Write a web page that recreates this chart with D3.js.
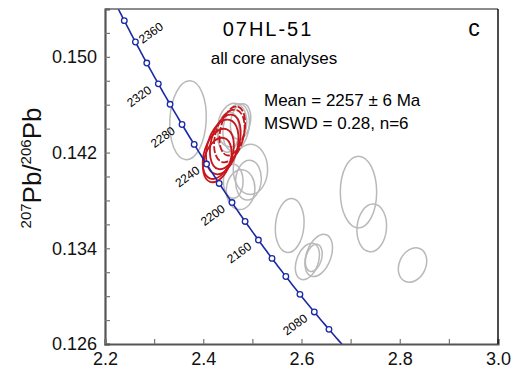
<!DOCTYPE html>
<html>
<head>
<meta charset="utf-8">
<script src="https://cdn.jsdelivr.net/npm/d3@7"></script>
<style>
  body { margin: 0; background: #fff; }
  text { font-family: "Liberation Sans", Arial, sans-serif; }
</style>
</head>
<body>
<div id="chart"></div>
<script>
// axis ticks
const xTicks = [2.2, 2.4, 2.6, 2.8, 3.0];
const xMinorTicks = [2.3, 2.5, 2.7, 2.9];
const yTicks = [0.126, 0.134, 0.142, 0.150];
const yMinorTicks = [0.128, 0.130, 0.132, 0.136, 0.138, 0.140, 0.144, 0.146, 0.148, 0.152];

// concordia age marks (Ma)
const markerAges = [2060, 2080, 2100, 2120, 2140, 2160, 2180, 2200, 2220, 2240, 2260, 2280, 2300, 2320, 2340, 2360, 2380];
const labelAges = [2360, 2320, 2280, 2240, 2200, 2160, 2080];

// analyses: [238U/206Pb, 207Pb/206Pb, half-width x, half-height y, tilt deg]
const grayEllipses = [
  [2.369, 0.1447, 0.037, 0.0033, 3],
  [2.459, 0.1443, 0.029, 0.00184, 10],
  [2.467, 0.1441, 0.026, 0.0020, 10],
  [2.451, 0.1437, 0.022, 0.00167, 5],
  [2.476, 0.1446, 0.020, 0.0015, 10],
  [2.496, 0.1406, 0.035, 0.0021, 0],
  [2.476, 0.1389, 0.029, 0.00167, 5],
  [2.492, 0.1397, 0.026, 0.00167, 5],
  [2.461, 0.1396, 0.020, 0.00142, 0],
  [2.576, 0.1359, 0.029, 0.00226, 5],
  [2.612, 0.1329, 0.022, 0.00159, 20],
  [2.635, 0.1334, 0.025, 0.00184, 20],
  [2.625, 0.1332, 0.016, 0.00117, 15],
  [2.716, 0.1387, 0.037, 0.0030, 0],
  [2.743, 0.1357, 0.030, 0.0020, 5],
  [2.826, 0.1326, 0.027, 0.0015, 25]
];
// the six analyses used for the mean age
const redEllipses = [
  [2.4286, 0.14138, 0.0265, 0.00192, 18],
  [2.4306, 0.14189, 0.0286, 0.00217, 18],
  [2.4388, 0.14247, 0.0306, 0.00234, 15],
  [2.4449, 0.14289, 0.0286, 0.00234, 15],
  [2.4531, 0.14339, 0.0286, 0.00226, 15],
  [2.4592, 0.14381, 0.0245, 0.00209, 12]
];
const redDashed = [false, false, false, false, true, true];

const W = 518, H = 372;
const margin = {top: 9, right: 20, bottom: 28, left: 105};
const width = W - margin.left - margin.right;
const height = H - margin.top - margin.bottom;

const svg = d3.select("#chart").append("svg")
  .attr("width", W)
  .attr("height", H);

const x = d3.scaleLinear().domain([2.2, 3.0]).range([margin.left, margin.left + width]);
const y = d3.scaleLinear().domain([0.126, 0.154]).range([margin.top + height, margin.top]);

svg.append("clipPath").attr("id", "plot")
  .append("rect")
  .attr("x", margin.left).attr("y", margin.top)
  .attr("width", width).attr("height", height);

const plot = svg.append("g").attr("clip-path", "url(#plot)");

// ellipses
function drawEllipses(list, color, sw, dashed) {
  plot.append("g")
    .selectAll("ellipse")
    .data(list)
    .enter().append("ellipse")
    .attr("transform", d => `translate(${x(d[0])},${y(d[1])}) rotate(${d[4]})`)
    .attr("rx", d => x(d[0] + d[2]) - x(d[0]))
    .attr("ry", d => y(d[1]) - y(d[1] + d[3]))
    .attr("fill", "none")
    .attr("stroke", color)
    .attr("stroke-width", sw)
    .attr("stroke-dasharray", (d, i) => dashed && dashed[i] ? "7,2" : null);
}
drawEllipses(grayEllipses, "#b9b9b9", 1.5);
drawEllipses(redEllipses, "#c8161d", 1.8, redDashed);

// Tera-Wasserburg concordia
const l238 = 1.55125e-4, l235 = 9.8485e-4;
function tw(t) {
  const e8 = Math.exp(l238 * t) - 1;
  const e5 = Math.exp(l235 * t) - 1;
  return [1 / e8, e5 / e8 / 137.88];
}
const curve = d3.range(2000, 2452, 2).map(tw);

plot.append("path")
  .datum(curve)
  .attr("fill", "none")
  .attr("stroke", "#1a2aa6")
  .attr("stroke-width", 1.6)
  .attr("d", d3.line().x(d => x(d[0])).y(d => y(d[1])));

plot.append("g")
  .selectAll("circle")
  .data(markerAges)
  .enter().append("circle")
  .attr("cx", d => x(tw(d)[0]))
  .attr("cy", d => y(tw(d)[1]))
  .attr("r", 2.8)
  .attr("fill", "#fff")
  .attr("stroke", "#1a2aa6")
  .attr("stroke-width", 1.3);

plot.append("g")
  .selectAll("text")
  .data(labelAges)
  .enter().append("text")
  .attr("transform", d => {
    const p = tw(d);
    const px = x(p[0]), py = y(p[1]);
    return d === 2360
      ? `translate(${px + 7},${py + 2}) rotate(-36)`
      : `translate(${px - 6},${py + 8}) rotate(-36)`;
  })
  .attr("text-anchor", d => d === 2360 ? "start" : "end")
  .style("font-size", "12px")
  .text(d => d);

// axes
const axisL = svg.append("g")
  .attr("transform", `translate(${margin.left},0)`)
  .call(d3.axisLeft(y).tickValues(yTicks).tickSize(-5).tickPadding(8).tickFormat(d3.format(".3f")));
const axisB = svg.append("g")
  .attr("transform", `translate(0,${margin.top + height})`)
  .call(d3.axisBottom(x).tickValues(xTicks).tickSize(-5).tickPadding(8).tickFormat(d3.format(".1f")));

svg.append("g")
  .attr("transform", `translate(${margin.left},0)`)
  .call(d3.axisLeft(y).tickValues(yMinorTicks).tickSize(-5).tickFormat(""))
  .call(g => g.select(".domain").remove());
svg.append("g")
  .attr("transform", `translate(0,${margin.top + height})`)
  .call(d3.axisBottom(x).tickValues(xMinorTicks).tickSize(-5).tickFormat(""))
  .call(g => g.select(".domain").remove());

svg.selectAll(".tick line").attr("stroke", "#777").attr("stroke-width", 1.2);
[axisL, axisB].forEach(a => {
  a.select(".domain").attr("stroke", "#555").attr("stroke-width", 2.2);
  a.selectAll(".tick text").attr("fill", "#111").style("font-size", "18px").style("font-family", "'Liberation Sans', Arial, sans-serif");
});

// top and right frame
svg.append("line")
  .attr("x1", margin.left).attr("x2", margin.left + width)
  .attr("y1", margin.top).attr("y2", margin.top)
  .attr("stroke", "#666").attr("stroke-width", 1.5);
svg.append("line")
  .attr("x1", margin.left + width).attr("x2", margin.left + width)
  .attr("y1", margin.top).attr("y2", margin.top + height)
  .attr("stroke", "#111").attr("stroke-width", 1.5);

// y axis label
const yl = svg.append("text")
  .attr("transform", `translate(41,168) rotate(-90)`)
  .attr("text-anchor", "middle")
  .attr("fill", "#111");
yl.append("tspan").style("font-size", "15px").attr("dy", -10).text("207");
yl.append("tspan").style("font-size", "26px").attr("dy", 10).text("Pb/");
yl.append("tspan").style("font-size", "15px").attr("dy", -10).text("206");
yl.append("tspan").style("font-size", "26px").attr("dy", 10).text("Pb");

// titles
svg.append("text")
  .attr("x", 268).attr("y", 36)
  .attr("text-anchor", "middle")
  .style("font-size", "20px")
  .style("letter-spacing", "2px")
  .text("07HL-51");
svg.append("text")
  .attr("x", 274).attr("y", 64)
  .attr("text-anchor", "middle")
  .style("font-size", "17px")
  .text("all core analyses");
svg.append("text")
  .attr("x", 474).attr("y", 36)
  .attr("text-anchor", "middle")
  .style("font-size", "23px")
  .text("c");

svg.append("text")
  .attr("x", 264).attr("y", 106)
  .style("font-size", "17px")
  .text("Mean = 2257 ± 6 Ma");
svg.append("text")
  .attr("x", 264).attr("y", 129)
  .style("font-size", "17px")
  .text("MSWD = 0.28, n=6");
</script>
</body>
</html>
